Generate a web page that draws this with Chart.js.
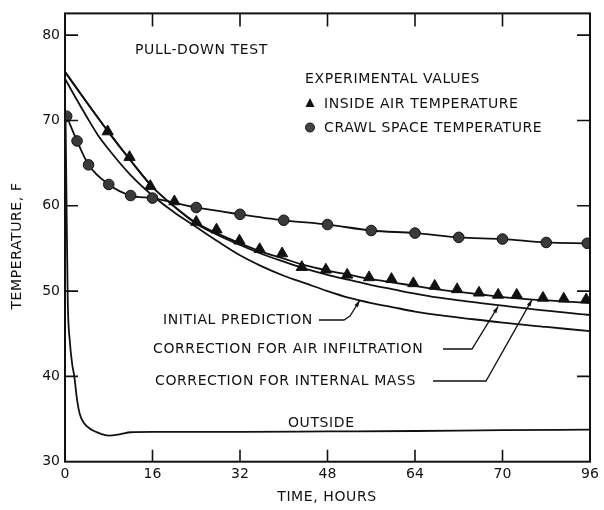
<!DOCTYPE html>
<html>
<head>
<meta charset="utf-8">
<script src="https://cdn.jsdelivr.net/npm/chart.js@4.4.1/dist/chart.umd.min.js"></script>
<style>
  html, body { margin: 0; padding: 0; background: #fff; }
  #wrap { width: 604px; height: 510px; }
</style>
</head>
<body>
<div id="wrap"><canvas id="chart"></canvas></div>
<script>
// ticks as printed (the 80 h tick is labelled "70" on the original drawing)
const xTickValues = [0, 16, 32, 48, 64, 80, 96];
const xTickLabels = ['0', '16', '32', '48', '64', '70', '96'];
const yTickValues = [30, 40, 50, 60, 70, 80];

// experimental values
const insideHours = [7.8, 11.8, 15.6, 20, 24, 27.7, 31.9, 35.6, 39.7, 43.3, 47.7, 51.6, 55.6, 59.7, 63.7, 67.6, 71.7, 75.7, 79.2, 82.6, 87.4, 91.2, 95.3];
const insideTemp = [68.7, 65.7, 62.3, 60.5, 58.1, 57.2, 55.9, 54.9, 54.4, 52.8, 52.5, 51.9, 51.6, 51.4, 50.9, 50.6, 50.2, 49.8, 49.55, 49.55, 49.2, 49.1, 49.0];
const crawlHours = [0.3, 2.2, 4.3, 8, 12, 16, 24, 32, 40, 48, 56, 64, 72, 80, 88, 95.5];
const crawlTemp = [70.5, 67.6, 64.8, 62.5, 61.2, 60.9, 59.8, 59.0, 58.3, 57.8, 57.1, 56.8, 56.3, 56.1, 55.7, 55.6];

// predicted curves
const initialHours = [0, 2, 4, 6, 8, 12, 16, 20, 24, 28, 32, 36, 40, 44, 48, 52, 56, 60, 64, 68, 72, 80, 88, 96];
const initialPrediction = [74.9, 72.6, 70.4, 68.3, 66.6, 63.6, 61.2, 59.2, 57.5, 55.8, 54.2, 52.9, 51.8, 50.9, 50.0, 49.2, 48.6, 48.1, 47.6, 47.2, 46.9, 46.3, 45.8, 45.3];
const correctedHours = [0, 4, 8, 12, 16, 20, 24, 28, 32, 36, 40, 44, 48, 52, 56, 60, 64, 68, 72, 76, 80, 88, 96];
const airInfiltration = [75.7, 72.1, 68.6, 65.3, 62.2, 59.9, 57.9, 56.55, 55.4, 54.35, 53.45, 52.6, 51.9, 51.3, 50.7, 50.2, 49.7, 49.25, 48.9, 48.6, 48.3, 47.7, 47.2];
const internalMass = [75.7, 72.1, 68.6, 65.3, 62.2, 59.9, 58.0, 56.7, 55.6, 54.6, 53.8, 53.0, 52.4, 51.9, 51.4, 51.0, 50.6, 50.2, 49.9, 49.6, 49.3, 48.9, 48.6];

// outside air
const outsideHours = [0.1, 0.25, 0.5, 0.9, 1.3, 1.7, 2.2, 2.7, 3.5, 4.5, 6, 8, 10, 12, 16, 32, 48, 64, 80, 96];
const outsideTemp = [70.5, 62, 49, 44, 41.5, 40, 37.3, 35.6, 34.5, 33.9, 33.4, 33.05, 33.2, 33.45, 33.5, 33.5, 33.55, 33.6, 33.7, 33.75];

const INK = '#111';
const FONT = '14px "DejaVu Sans"';

function pts(xs, ys) {
    return xs.map(function (x, i) { return { x: x, y: ys[i] }; });
}

function curve(label, xs, ys) {
    return {
        label: label,
        data: pts(xs, ys),
        showLine: true,
        borderColor: INK,
        borderWidth: 1.8,
        pointRadius: 0,
        cubicInterpolationMode: 'monotone'
    };
}

function arrowTo(ctx, pts, tip) {
    ctx.beginPath();
    ctx.moveTo(pts[0][0], pts[0][1]);
    for (let i = 1; i < pts.length; i++) ctx.lineTo(pts[i][0], pts[i][1]);
    ctx.lineTo(tip[0], tip[1]);
    ctx.stroke();
    // small arrow head
    let last = pts[pts.length - 1];
    let a = Math.atan2(tip[1] - last[1], tip[0] - last[0]);
    ctx.beginPath();
    ctx.moveTo(tip[0], tip[1]);
    ctx.lineTo(tip[0] - 7 * Math.cos(a - 0.3), tip[1] - 7 * Math.sin(a - 0.3));
    ctx.lineTo(tip[0] - 7 * Math.cos(a + 0.3), tip[1] - 7 * Math.sin(a + 0.3));
    ctx.closePath();
    ctx.fill();
}

const framePlugin = {
    id: 'frame',
    afterDatasetsDraw: function (chart) {
        let ctx = chart.ctx;
        let a = chart.chartArea;
        let xs = chart.scales.x, ys = chart.scales.y;
        ctx.save();
        ctx.strokeStyle = INK;
        ctx.fillStyle = INK;
        ctx.lineWidth = 2;
        ctx.strokeRect(a.left, a.top, a.right - a.left, a.bottom - a.top);
        // inward tick marks on all four sides
        ctx.lineWidth = 1.6;
        ctx.beginPath();
        xTickValues.slice(1, -1).forEach(function (v) {
            let px = xs.getPixelForValue(v);
            ctx.moveTo(px, a.bottom); ctx.lineTo(px, a.bottom - 12);
            ctx.moveTo(px, a.top); ctx.lineTo(px, a.top + 13);
        });
        yTickValues.slice(1).forEach(function (v) {
            let py = ys.getPixelForValue(v);
            ctx.moveTo(a.left, py); ctx.lineTo(a.left + 13, py);
            ctx.moveTo(a.right, py); ctx.lineTo(a.right - 13, py);
        });
        ctx.stroke();

        // text
        ctx.font = FONT;
        ctx.letterSpacing = '0.6px';
        ctx.textBaseline = 'middle';
        ctx.textAlign = 'left';
        ctx.fillText('PULL-DOWN TEST', 135, 50);
        ctx.fillText('EXPERIMENTAL VALUES', 305, 79);
        ctx.fillText('INSIDE AIR TEMPERATURE', 324, 104);
        ctx.fillText('CRAWL SPACE TEMPERATURE', 324, 128);
        ctx.fillText('INITIAL PREDICTION', 163, 320);
        ctx.fillText('CORRECTION FOR AIR INFILTRATION', 153, 349);
        ctx.fillText('CORRECTION FOR INTERNAL MASS', 155, 381);
        ctx.fillText('OUTSIDE', 288, 423);

        // legend markers
        ctx.beginPath();
        ctx.moveTo(310, 98); ctx.lineTo(314.5, 107); ctx.lineTo(305.5, 107);
        ctx.closePath();
        ctx.fill();
        ctx.beginPath();
        ctx.arc(310, 127.5, 4.5, 0, Math.PI * 2);
        ctx.fillStyle = '#444';
        ctx.fill();
        ctx.lineWidth = 1;
        ctx.stroke();
        ctx.fillStyle = INK;

        // leader lines
        ctx.lineWidth = 1.3;
        arrowTo(ctx, [[319, 320], [344, 320], [350, 316]],
            [xs.getPixelForValue(53.9), ys.getPixelForValue(48.9)]);
        arrowTo(ctx, [[443, 349], [472, 349]],
            [xs.getPixelForValue(79.2), ys.getPixelForValue(48.2)]);
        arrowTo(ctx, [[433, 381], [486, 381]],
            [xs.getPixelForValue(85.4), ys.getPixelForValue(49.0)]);

        // axis titles
        ctx.textAlign = 'center';
        ctx.fillText('TIME, HOURS', 327, 497);
        ctx.translate(17, 246);
        ctx.rotate(-Math.PI / 2);
        ctx.fillText('TEMPERATURE, F', 0, 0);
        ctx.restore();
    }
};

Chart.defaults.font.family = '"DejaVu Sans"';
Chart.defaults.font.size = 14;
Chart.defaults.color = INK;

let canvas = document.getElementById('chart').getContext('2d');
new Chart(canvas, {
    type: 'scatter',
    data: {
        datasets: [
            {
                label: 'INSIDE AIR TEMPERATURE',
                data: pts(insideHours, insideTemp),
                showLine: false,
                pointStyle: 'triangle',
                pointRadius: 6.5,
                backgroundColor: INK,
                borderColor: INK,
                borderWidth: 1
            },
            {
                label: 'CRAWL SPACE TEMPERATURE',
                data: pts(crawlHours, crawlTemp),
                showLine: true,
                borderColor: INK,
                borderWidth: 1.8,
                cubicInterpolationMode: 'monotone',
                pointStyle: 'circle',
                pointRadius: 5.3,
                pointBackgroundColor: '#3a3a3a',
                pointBorderColor: INK,
                pointBorderWidth: 1
            },
            curve('INITIAL PREDICTION', initialHours, initialPrediction),
            curve('CORRECTION FOR AIR INFILTRATION', correctedHours, airInfiltration),
            curve('CORRECTION FOR INTERNAL MASS', correctedHours, internalMass),
            curve('OUTSIDE', outsideHours, outsideTemp)
        ]
    },
    options: {
        responsive: true,
        maintainAspectRatio: false,
        animation: false,
        layout: { padding: { top: 9, right: 14, left: 0, bottom: 0 } },
        plugins: {
            legend: { display: false },
            tooltip: { enabled: false }
        },
        scales: {
            x: {
                type: 'linear',
                min: 0,
                max: 96,
                afterBuildTicks: function (scale) {
                    scale.ticks = xTickValues.map(function (v) { return { value: v }; });
                },
                afterFit: function (scale) { scale.height = 48.3; },
                ticks: {
                    padding: 4,
                    maxRotation: 0,
                    callback: function (v) { return xTickLabels[xTickValues.indexOf(v)]; }
                },
                grid: { display: false, drawTicks: false },
                border: { display: false }
            },
            y: {
                min: 30,
                max: 82.55,
                afterBuildTicks: function (scale) {
                    scale.ticks = yTickValues.map(function (v) { return { value: v }; });
                },
                afterFit: function (scale) { scale.width = 65; },
                ticks: { padding: 5 },
                grid: { display: false, drawTicks: false },
                border: { display: false }
            }
        }
    },
    plugins: [framePlugin]
});
</script>
</body>
</html>
